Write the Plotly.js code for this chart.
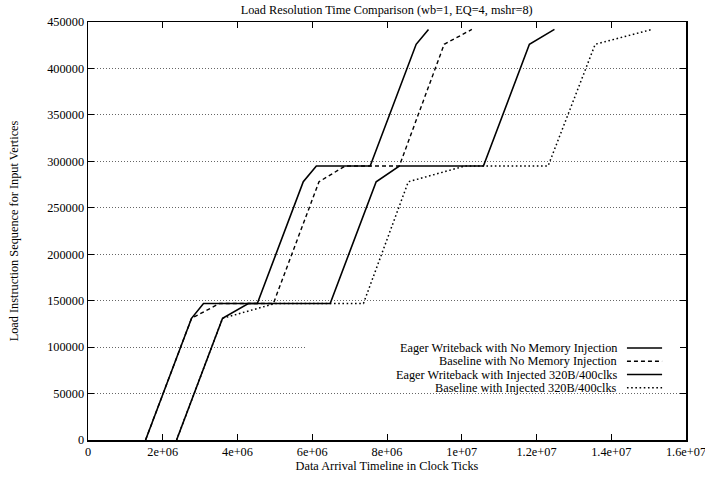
<!DOCTYPE html>
<html>
<head>
<meta charset="utf-8">
<script src="https://cdn.plot.ly/plotly-3.0.1.min.js"></script>
<style>html,body{margin:0;padding:0;background:#fff;}#chart{width:705px;height:479px;}</style>
</head>
<body>
<div id="chart"></div>
<script>
// Data
const seriesNames = [
  "Eager Writeback with No Memory Injection",
  "Baseline with No Memory Injection",
  "Eager Writeback with Injected 320B/400clks",
  "Baseline with Injected 320B/400clks"
];
const loadSeq = [0, 131000, 147000, 147000, 278000, 295000, 295000, 426000, 442000];
const eagerNoMemX   = [1.54e6, 2.77e6, 3.09e6, 4.53e6, 5.76e6, 6.11e6, 7.55e6, 8.78e6, 9.11e6];
const baseNoMemX    = [1.54e6, 2.77e6, 3.52e6, 4.96e6, 6.18e6, 6.88e6, 8.33e6, 9.53e6, 10.27e6];
const eagerInjX     = [2.37e6, 3.60e6, 4.29e6, 6.48e6, 7.71e6, 8.33e6, 10.58e6, 11.81e6, 12.48e6];
const baseInjX      = [2.37e6, 3.60e6, 5.01e6, 7.37e6, 8.57e6, 10.09e6, 12.31e6, 13.57e6, 15.09e6];
const xTickVals  = [0, 2e6, 4e6, 6e6, 8e6, 1e7, 1.2e7, 1.4e7, 1.6e7];
const xTickText  = ["0", "2e+06", "4e+06", "6e+06", "8e+06", "1e+07", "1.2e+07", "1.4e+07", "1.6e+07"];
const yTickVals  = [0, 50000, 100000, 150000, 200000, 250000, 300000, 350000, 400000, 450000];
const yTickText  = ["0", "50000", "100000", "150000", "200000", "250000", "300000", "350000", "400000", "450000"];

const xs = [eagerNoMemX, baseNoMemX, eagerInjX, baseInjX];
const dashes = ["solid", "4px,3px", "solid", "1.6px,2.6px"];
const widths = [1.6, 1.4, 1.6, 1.5];

const font = {family: "'Liberation Serif', 'Times New Roman', serif", size: 12.3, color: "#000"};

const traces = xs.map((x, i) => ({
  x: x, y: loadSeq, type: "scatter", mode: "lines", name: seriesNames[i],
  line: {color: "#000", width: widths[i], dash: dashes[i]},
  showlegend: false, hoverinfo: "skip"
}));

// Legend (gnuplot style: text right-aligned, sample to the right)
const legendY = [99100, 84800, 70500, 56200];
const shapes = [{
  type: "rect", xref: "x", yref: "y", x0: 5.82e6, x1: 1.6e7, y0: 53500, y1: 106500,
  fillcolor: "#fff", line: {width: 0}, layer: "between"
}];
const annotations = [];
seriesNames.forEach((n, i) => {
  annotations.push({
    xref: "x", yref: "y", x: 14.17e6, y: legendY[i], text: n, showarrow: false,
    xanchor: "right", yanchor: "middle", font: font, borderpad: 0
  });
  shapes.push({
    type: "line", xref: "x", yref: "y", x0: 14.42e6, x1: 15.36e6, y0: legendY[i], y1: legendY[i],
    line: {color: "#000", width: widths[i], dash: dashes[i]}, layer: "above"
  });
});

const layout = {
  width: 705, height: 479,
  margin: {l: 88, r: 19, t: 22, b: 39, pad: 0},
  paper_bgcolor: "#fff", plot_bgcolor: "#fff",
  font: font,
  title: {text: "Load Resolution Time Comparison (wb=1, EQ=4, mshr=8)", font: font,
          x: 0.5485, xanchor: "center", y: 1 - 10 / 479, yanchor: "middle"},
  xaxis: {
    range: [0, 1.6e7], tickmode: "array", tickvals: xTickVals, ticktext: xTickText,
    ticks: "inside", ticklen: 6, tickwidth: 1, tickcolor: "#000", ticklabeloverflow: "allow",
    showgrid: false, zeroline: false, showline: true, linecolor: "#000", linewidth: 1.5, mirror: "ticks",
    title: {text: "Data Arrival Timeline in Clock Ticks", font: font, standoff: 3},
    tickfont: font, fixedrange: true
  },
  yaxis: {
    range: [0, 450000], tickmode: "array", tickvals: yTickVals, ticktext: yTickText,
    ticks: "inside", ticklen: 6, tickwidth: 1, tickcolor: "#000", ticklabeloverflow: "allow",
    showgrid: true, gridcolor: "#666", gridwidth: 1, griddash: "1px,2px",
    zeroline: false, showline: true, linecolor: "#000", linewidth: 1.5, mirror: "ticks",
    title: {text: "Load Instruction Sequence for Input Vertices", font: font, standoff: 26},
    tickfont: font, fixedrange: true
  },
  shapes: shapes,
  annotations: annotations,
  showlegend: false
};

Plotly.newPlot("chart", traces, layout, {displayModeBar: false, staticPlot: true});
</script>
</body>
</html>
